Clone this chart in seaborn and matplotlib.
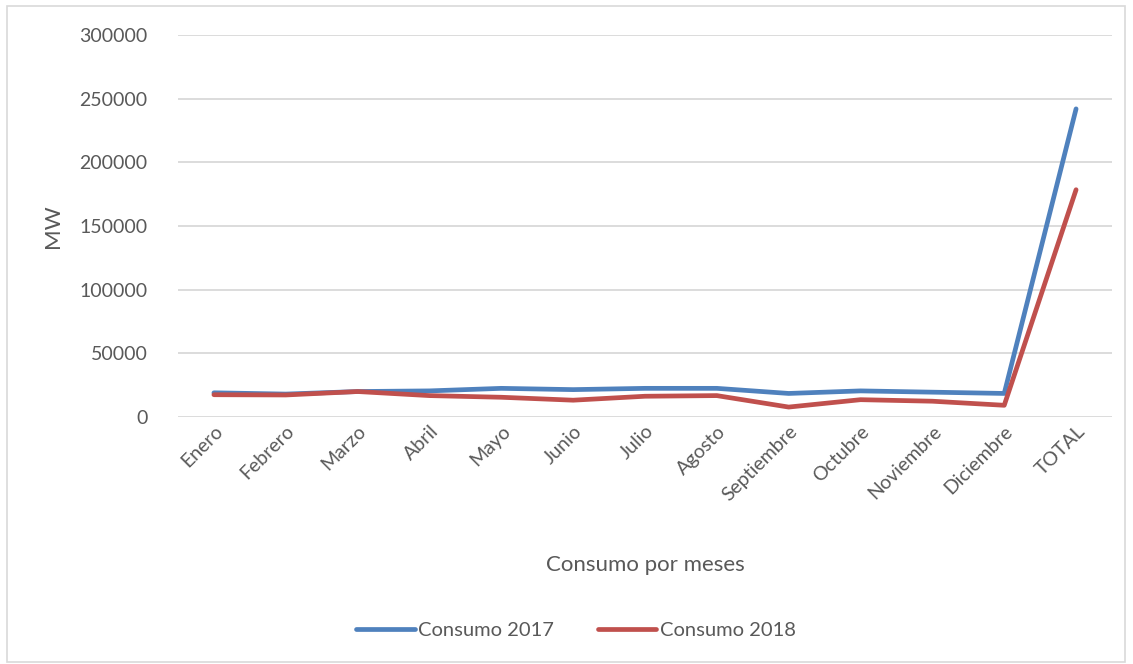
import matplotlib
matplotlib.use("Agg")
import matplotlib.pyplot as plt
import seaborn as sns
import pandas as pd
from matplotlib.patches import Rectangle

categories = ["Enero", "Febrero", "Marzo", "Abril", "Mayo", "Junio", "Julio",
              "Agosto", "Septiembre", "Octubre", "Noviembre", "Diciembre", "TOTAL"]
consumo_2017 = [19000, 18000, 20000, 20500, 22500, 21500, 22500,
                22500, 18500, 20500, 19500, 18500, 242000]
consumo_2018 = [17500, 17300, 20000, 16800, 15500, 13200, 16300,
                16800, 7800, 13600, 12400, 9200, 178500]
series_names = ["Consumo 2017", "Consumo 2018"]
y_ticks = [0, 50000, 100000, 150000, 200000, 250000, 300000]

df = pd.DataFrame({
    "Mes": categories * 2,
    "Valor": consumo_2017 + consumo_2018,
    "Serie": [series_names[0]] * len(categories) + [series_names[1]] * len(categories),
})

sns.set_theme(style="white")
plt.rcParams['font.family'] = ['Lato', 'DejaVu Sans']

text_color = "#595959"
fig = plt.figure(figsize=(11.33, 6.64), dpi=100)
ax = fig.add_axes([178 / 1133, 1 - 417 / 664, (1112 - 178) / 1133, (417 - 35) / 664])

palette = {series_names[0]: "#4F81BD", series_names[1]: "#C0504D"}
sns.lineplot(data=df, x="Mes", y="Valor", hue="Serie", palette=palette,
             linewidth=3.4, sort=False, ax=ax, legend=True)
for line in ax.get_lines():
    line.set_solid_capstyle("round")
    line.set_solid_joinstyle("round")

ax.set_ylim(0, 300000)
ax.set_yticks(y_ticks)
ax.set_yticklabels([str(v) for v in y_ticks], fontsize=14, color=text_color)
ax.set_xlim(-0.5, len(categories) - 0.5)
ax.set_xticks(range(len(categories)))
ax.set_xticklabels(categories, rotation=45, ha="right", rotation_mode="anchor",
                   fontsize=14, color=text_color)
ax.tick_params(axis="x", length=0, pad=4)
ax.tick_params(axis="y", length=0, pad=22)
ax.grid(axis="y", color="#D9D9D9", linewidth=1.3)
ax.set_axisbelow(True)
for s in ax.spines.values():
    s.set_visible(False)

ax.set_ylabel("MW", fontsize=16, color=text_color, labelpad=12)
ax.set_xlabel("Consumo por meses", fontsize=16, color=text_color, labelpad=37)

handles, labels = ax.get_legend_handles_labels()
ax.legend(handles, labels, loc="center", bbox_to_anchor=(576 / 1133, 1 - 630 / 664),
          bbox_transform=fig.transFigure, ncol=2, frameon=False, fontsize=14.5,
          handlelength=2.9, handletextpad=0.15, columnspacing=2.2, labelcolor=text_color)

fig.patches.append(Rectangle((7 / 1133, 2 / 664), 1118 / 1133, 656 / 664,
                             transform=fig.transFigure, fill=False,
                             edgecolor="#D9D9D9", linewidth=1.2))

fig.savefig("out.png", dpi=100, facecolor="white")
